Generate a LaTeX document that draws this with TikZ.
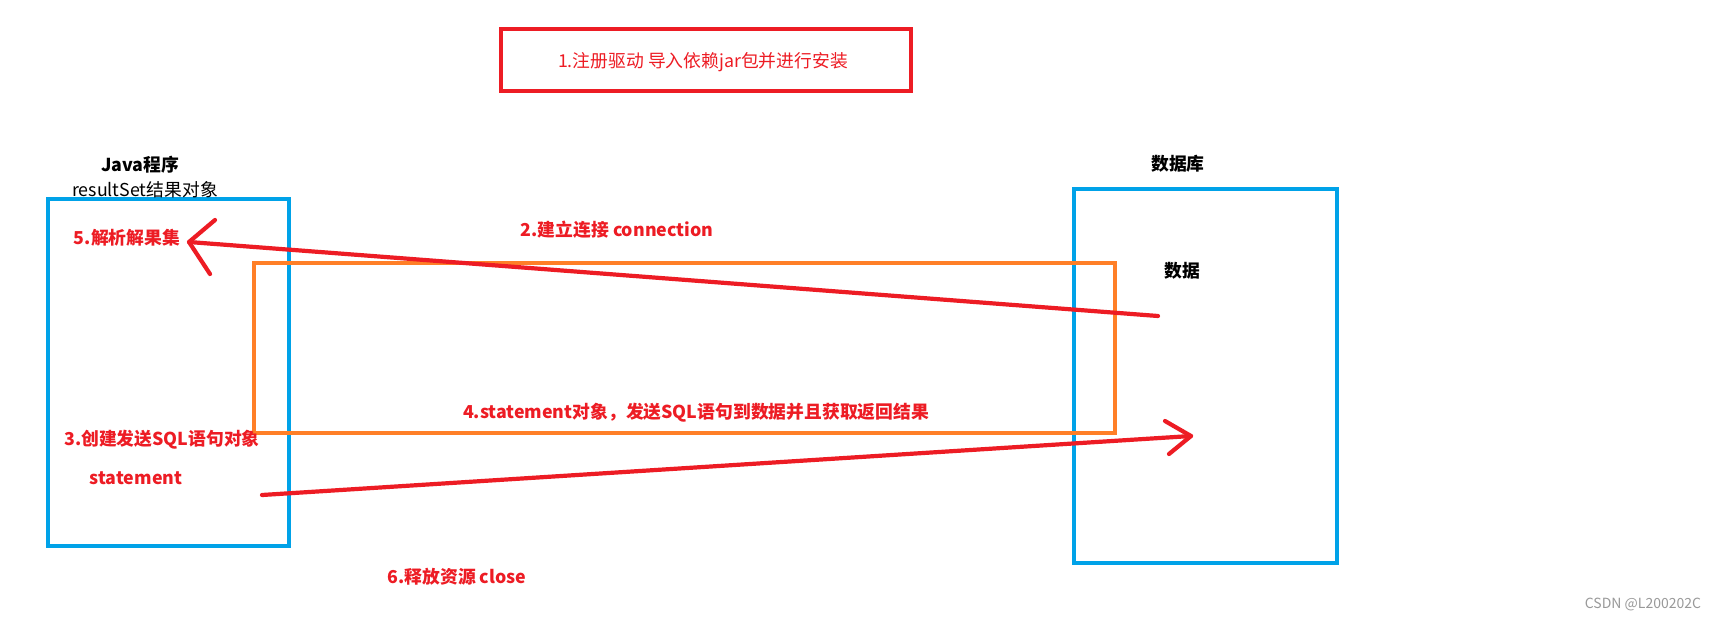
\documentclass[tikz,border=0pt]{standalone}
\usepackage{fontspec}
\setmainfont{Noto Sans CJK SC}
\definecolor{pred}{HTML}{ED1C24}
\definecolor{pblue}{HTML}{00A2E8}
\definecolor{porange}{HTML}{FF7F27}
\begin{document}
\begin{tikzpicture}[x=1pt,y=-1pt,
  box/.style={line width=4pt},
  stroke/.style={draw=pred,line width=4.2pt,line cap=round,line join=round},
  redlbl/.style={text=pred,font=\fontsize{17.8}{20}\selectfont\bfseries,inner sep=0pt},
  blklbl/.style={text=black,font=\fontsize{17.8}{20}\selectfont\bfseries,inner sep=0pt},
]
\fill[white] (0,0) rectangle (1714,622);
\useasboundingbox (0,0) rectangle (1714,622);

% boxes
\draw[box,draw=pred] (501,29) rectangle (911,91);
\node[text=pred,font=\fontsize{17.8}{20}\selectfont,inner sep=0pt] (t1) at (703,62) {1.注册驱动 导入依赖jar包并进行安装};

\draw[box,draw=pblue] (48,199) rectangle (289,546);
\draw[box,draw=pblue] (1074,189) rectangle (1337,563);
\draw[box,draw=porange] (254,263) rectangle (1115,433);

% labels
\node[blklbl] (java) at (140,165) {Java程序};
\node[text=black,font=\fontsize{17.8}{20}\selectfont,inner sep=0pt] (rs) at (145,190) {resultSet结果对象};
\node[redlbl] (l5) at (127,238) {5.解析解果集};
\node[redlbl] (l3) at (162,440) {3.创建发送SQL语句对象};
\node[redlbl] (stmt) at (136,478) {statement};
\node[blklbl] (db) at (1178,164) {数据库};
\node[blklbl] (data) at (1182,271) {数据};
\node[redlbl] (l2) at (617,230) {2.建立连接 connection};
\node[redlbl] (l4) at (696,413) {4.statement对象，发送SQL语句到数据并且获取返回结果};
\node[redlbl] (l6) at (457,577) {6.释放资源 close};
\node[text=black!40,font=\fontsize{14}{16}\selectfont,inner sep=0pt] (wm) at (1643,604) {CSDN @L200202C};

% arrow 1 (database -> java)
\coordinate (a1s) at (1158,316);
\coordinate (a1t) at (189,242);
\coordinate (a1u) at (215,220);
\coordinate (a1d) at (210,274);
\draw[stroke] (a1s) -- (a1t);
\draw[stroke] (a1u) -- (a1t) -- (a1d);

% arrow 2 (java -> database)
\coordinate (a2s) at (262,495);
\coordinate (a2t) at (1191,436);
\coordinate (a2u) at (1165,421);
\coordinate (a2d) at (1169,454);
\draw[stroke] (a2s) -- (a2t);
\draw[stroke] (a2u) -- (a2t) -- (a2d);
\end{tikzpicture}
\end{document}
